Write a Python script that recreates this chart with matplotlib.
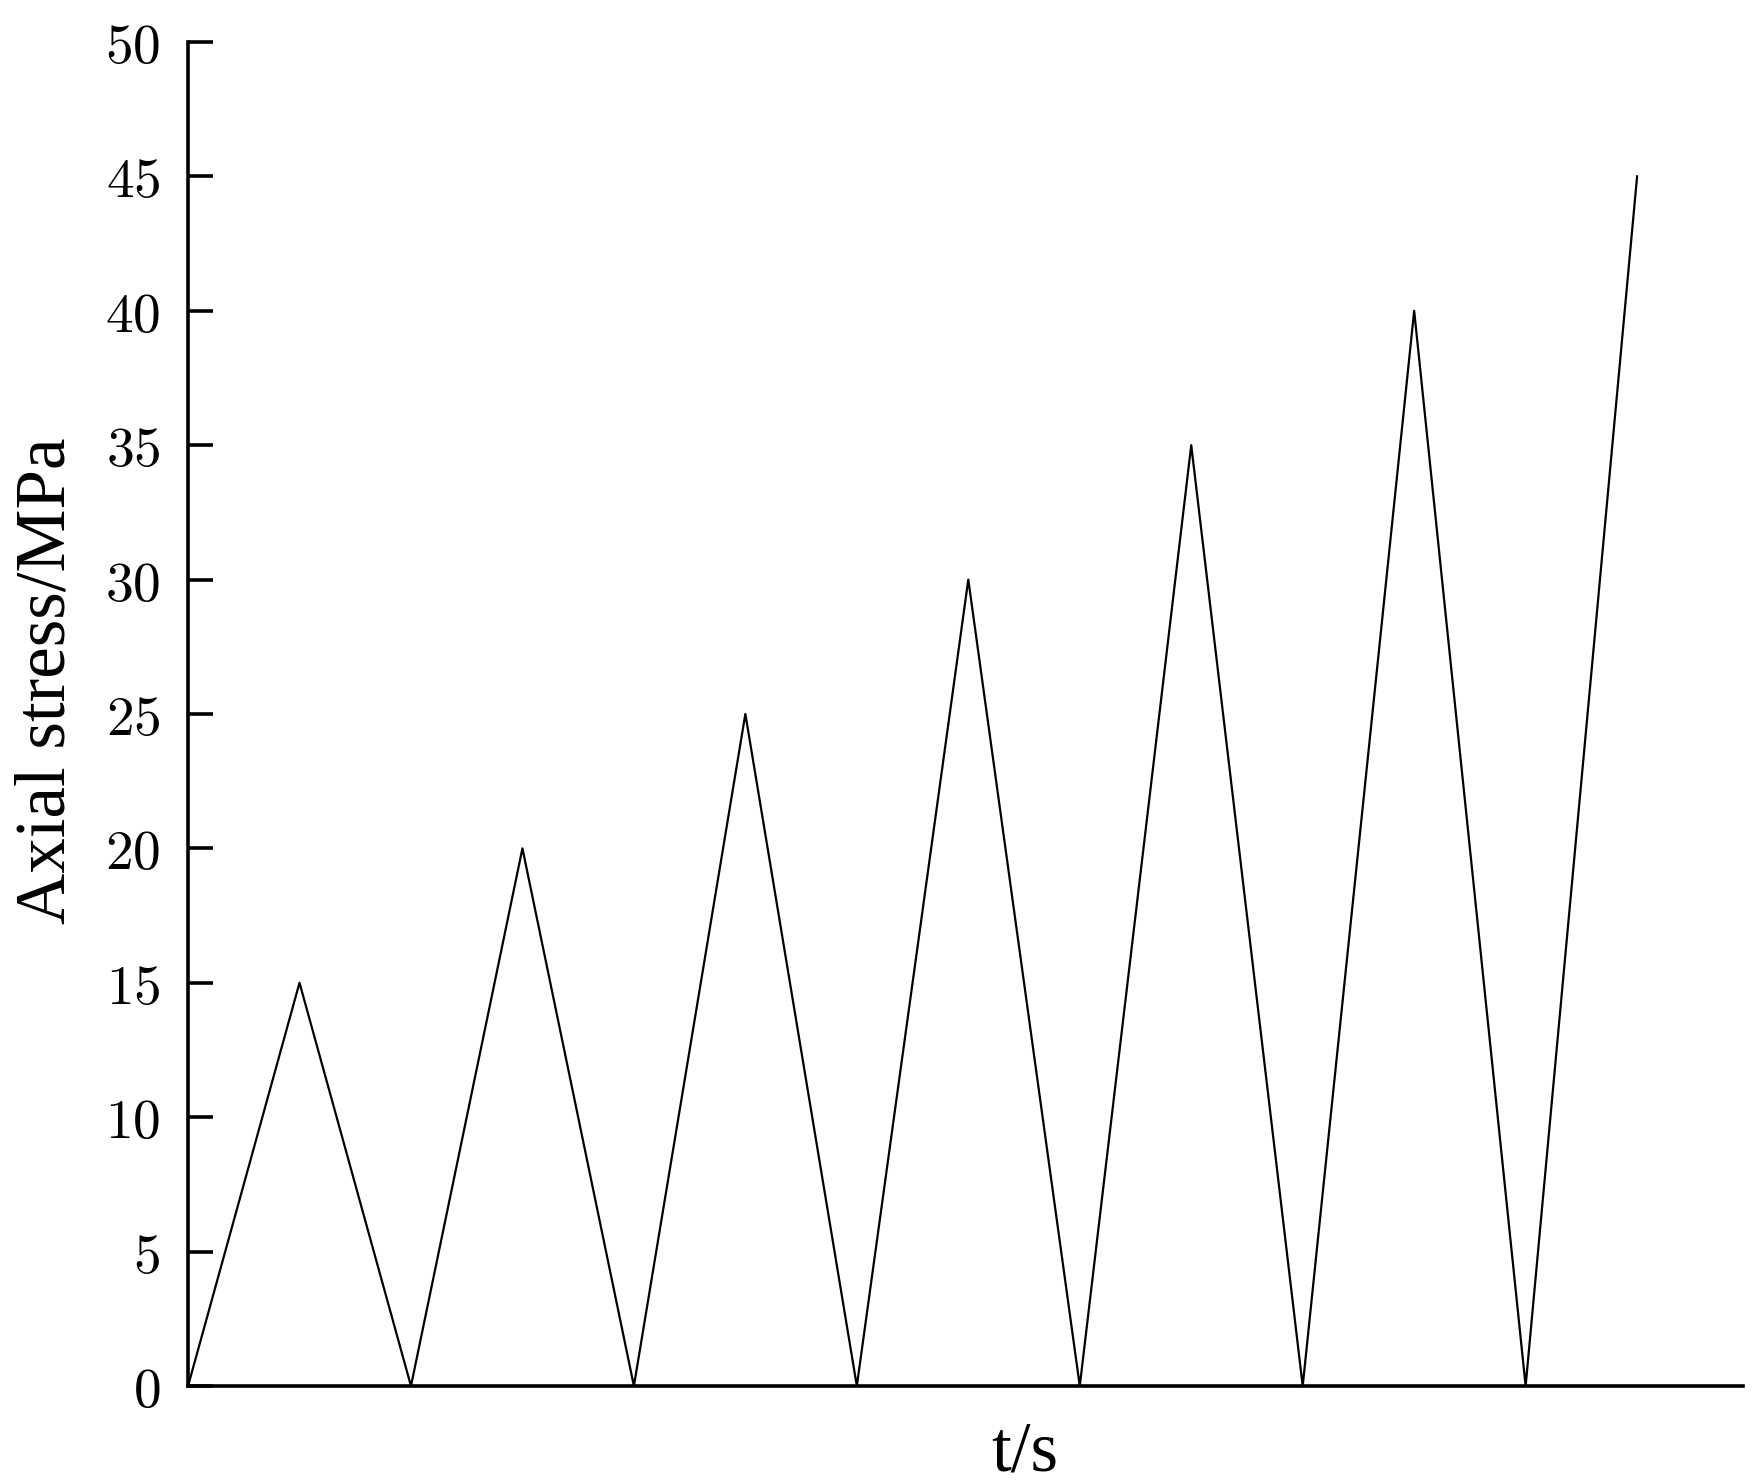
import matplotlib
matplotlib.use('Agg')
import matplotlib.pyplot as plt
from matplotlib.ticker import FuncFormatter

# Loading cycles: stress returns to zero between peaks
t = [0, 1, 2, 3, 4, 5, 6, 7, 8, 9, 10, 11, 12, 13]
stress = [0, 15, 0, 20, 0, 25, 0, 30, 0, 35, 0, 40, 0, 45]
yticks = [0, 5, 10, 15, 20, 25, 30, 35, 40, 45, 50]

plt.rcParams['mathtext.fontset'] = 'cm'

fig = plt.figure(figsize=(17.59, 14.83), dpi=100)
ax = fig.add_axes([0.1069, 0.0654, 0.884, 0.9063])

ax.plot(t, stress, color='black', linewidth=1.6)

ax.set_xlim(0, 13.95)
ax.set_ylim(0, 50)
ax.set_yticks(yticks)
ax.yaxis.set_major_formatter(FuncFormatter(lambda v, p: r'$%d$' % v))
ax.set_xticks([])

for s in ['top', 'right']:
    ax.spines[s].set_visible(False)
for s in ['left', 'bottom']:
    ax.spines[s].set_linewidth(2.6)

ax.tick_params(axis='y', direction='in', length=18, width=2.6,
               labelsize=40, pad=20)

ax.set_ylabel('Axial stress/MPa', fontsize=51, family='Liberation Serif')
ax.yaxis.set_label_coords(-0.091, 0.525)
ax.yaxis.label.set_va('center')
ax.set_xlabel('t/s', fontsize=51, family='Liberation Serif')
ax.xaxis.set_label_coords(0.538, -0.05)
ax.xaxis.label.set_va('center')

fig.savefig('out.png', dpi=100)
